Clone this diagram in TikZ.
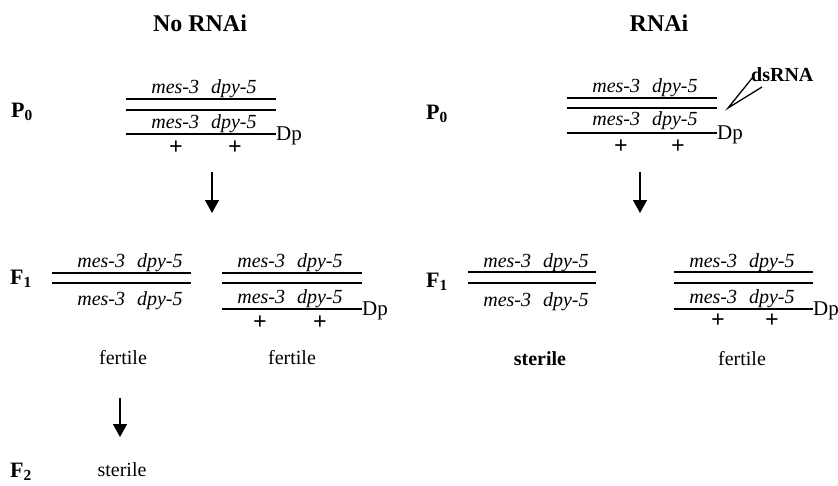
\documentclass[tikz,border=0pt]{standalone}
\usepackage{fontspec}
\setmainfont{Liberation Serif}
\usetikzlibrary{arrows.meta,positioning}

\begin{document}
\begin{tikzpicture}[x=1pt,y=-1pt,
    chr/.style={line width=2.2pt},
    dpl/.style={line width=1.8pt},
    gene/.style={font=\fontsize{20}{24}\selectfont\itshape,
                 inner sep=0pt,anchor=base},
    gen/.style={font=\fontsize{22}{26}\selectfont\bfseries,inner sep=0pt},
    hdr/.style={font=\fontsize{24}{28}\selectfont\bfseries,
                inner sep=0pt,anchor=base},
    pl/.style={font=\fontsize{24}{26}\selectfont\bfseries,inner sep=0pt},
    dp/.style={font=\fontsize{21}{24}\selectfont,inner sep=0pt},
    fate/.style={font=\fontsize{20}{24}\selectfont,inner sep=0pt,anchor=base},
    arr/.style={-{Triangle[width=14pt,length=13pt]},line width=1.3pt},
  ]
    \useasboundingbox (0,0) rectangle (838,485);
    \node[hdr](noh) at (200,31){No RNAi};
    \node[hdr](rh) at (659,31){RNAi};

    \node[gen](lp0) at (22,112){P\textsubscript{0}};
    \node[gene](lp0g1) at (204,93){mes-3\hspace{0.6em}dpy-5};
    \draw[chr](126,99)--(276,99);
    \draw[chr](126,110)--(276,110);
    \node[gene](lp0g2) at (204,128){mes-3\hspace{0.6em}dpy-5};
    \draw[dpl](126,134)--(276,134) coordinate(lp0d);
    \node[dp,right=0pt of lp0d,yshift=-2pt](lp0dp){Dp};
    \node[pl](lp0a) at (176,148){+};
    \node[pl](lp0b) at (235,148){+};

    \node[gen](rp0) at (437,114){P\textsubscript{0}};
    \node[gene](rp0g1) at (645,92){mes-3\hspace{0.6em}dpy-5};
    \draw[chr](567,98)--(717,98);
    \draw[chr](567,108)--(717,108);
    \node[gene](rp0g2) at (645,125){mes-3\hspace{0.6em}dpy-5};
    \draw[dpl](567,133)--(717,133) coordinate(rp0d);
    \node[dp,right=0pt of rp0d,yshift=-2pt](rp0dp){Dp};
    \node[pl](rp0a) at (621,147){+};
    \node[pl](rp0b) at (678,147){+};
    \node[font=\fontsize{20}{24}\selectfont\bfseries,inner sep=0pt,
      anchor=base west](ds) at (751,81){dsRNA};
    \coordinate(dsv) at (728,108);
    \coordinate(dsa) at (753,77);
    \coordinate(dsb) at (762,87);
    \draw[line width=1.3pt](dsa)--(dsv)--(dsb);

    \coordinate(la0) at (212,172); \coordinate(la1) at (212,213);
    \draw[arr](la0)--(la1);
    \coordinate(ra0) at (640,172); \coordinate(ra1) at (640,213);
    \draw[arr](ra0)--(ra1);

    \node[gen](lf1) at (21,279){F\textsubscript{1}};
    \node[gene](lf1g1) at (130,267){mes-3\hspace{0.6em}dpy-5};
    \draw[chr](52,273)--(191,273);
    \draw[chr](52,283)--(191,283);
    \node[gene](lf1g2) at (130,305){mes-3\hspace{0.6em}dpy-5};
    \node[gene](lf1g3) at (290,267){mes-3\hspace{0.6em}dpy-5};
    \draw[chr](222,273)--(362,273);
    \draw[chr](222,283)--(362,283);
    \node[gene](lf1g4) at (290,303){mes-3\hspace{0.6em}dpy-5};
    \draw[dpl](222,309)--(362,309) coordinate(lf1d);
    \node[dp,right=0pt of lf1d,yshift=-2pt](lf1dp){Dp};
    \node[pl](lf1a) at (260,323){+};
    \node[pl](lf1b) at (320,323){+};

    \node[gen](rf1) at (437,282){F\textsubscript{1}};
    \node[gene](rf1g1) at (536,267){mes-3\hspace{0.6em}dpy-5};
    \draw[chr](468,272)--(596,272);
    \draw[chr](468,283)--(596,283);
    \node[gene](rf1g2) at (536,306){mes-3\hspace{0.6em}dpy-5};
    \node[gene](rf1g3) at (742,267){mes-3\hspace{0.6em}dpy-5};
    \draw[chr](674,272)--(813,272);
    \draw[chr](674,283)--(813,283);
    \node[gene](rf1g4) at (742,303){mes-3\hspace{0.6em}dpy-5};
    \draw[dpl](674,309)--(813,309) coordinate(rf1d);
    \node[dp,right=0pt of rf1d,yshift=-2pt](rf1dp){Dp};
    \node[pl](rf1a) at (718,321){+};
    \node[pl](rf1b) at (772,321){+};

    \node[fate](lfa) at (123,364){fertile};
    \node[fate](lfb) at (292,364){fertile};
    \node[fate,font=\fontsize{20}{24}\selectfont\bfseries](rfa) at (540,365){sterile};
    \node[fate](rfb) at (742,365){fertile};

    \coordinate(fa0) at (120,398); \coordinate(fa1) at (120,437);
    \draw[arr](fa0)--(fa1);
    \node[gen](f2) at (21,472){F\textsubscript{2}};
    \node[fate](f2s) at (122,476){sterile};
\end{tikzpicture}
\end{document}
